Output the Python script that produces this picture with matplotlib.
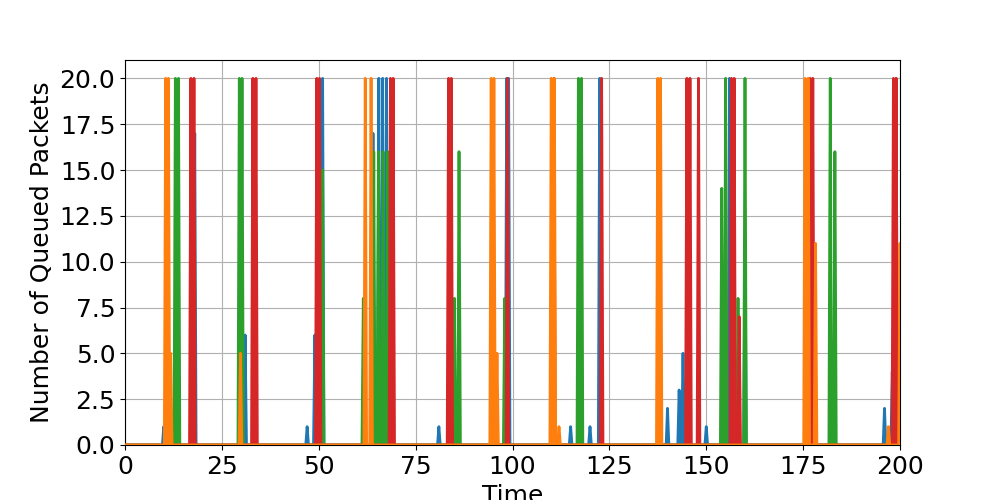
import matplotlib
matplotlib.use("Agg")
import matplotlib.pyplot as plt
import numpy as np

# spike centre times and peak heights per series
blue_t = [10, 12, 18, 30.5, 31, 47, 49, 51, 64, 65.5, 66.5, 67.5, 81, 84, 98.5, 99, 115, 120, 122.5, 140, 143, 144, 145, 150, 156, 160, 196, 198, 199]
blue_v = [1, 1, 17, 6, 6, 1, 6, 20, 17, 20, 20, 20, 1, 1, 20, 20, 1, 1, 20, 2, 3, 5, 6, 1, 20, 11, 2, 4, 20]
orange_t = [10.5, 11.2, 11.8, 29.8, 62, 63.5, 94.5, 95.2, 96, 110, 110.8, 112, 137.5, 138.2, 175.5, 176.3, 178.2, 197, 200]
orange_v = [20, 20, 5, 5, 20, 20, 20, 20, 5, 20, 20, 1, 20, 20, 20, 20, 11, 1, 11]
green_t = [13, 13.8, 29.5, 30.2, 50, 51, 61.5, 64.2, 65.4, 66.6, 67.8, 85, 86.2, 98, 117, 117.8, 154, 155, 158.2, 160, 182, 183.2]
green_v = [20, 20, 20, 20, 15, 15, 8, 16, 16, 16, 16, 8, 16, 8, 20, 20, 14, 20, 8, 20, 20, 16]
red_t = [17, 17.8, 33, 33.8, 49.5, 50.2, 68.5, 69.2, 83.5, 84.2, 98.7, 110.7, 123, 145, 145.8, 148, 156.5, 157.2, 158.5, 176.8, 177.5, 198.3, 199]
red_v = [20, 20, 20, 20, 20, 20, 20, 20, 20, 20, 20, 20, 20, 20, 20, 20, 20, 20, 7, 20, 20, 20, 20]

def spikes(ts, vs, hw=0.35):
    x = [0]; y = [0]
    for t, v in zip(ts, vs):
        x += [t - hw, t, t + hw]; y += [0, v, 0]
    x.append(200); y.append(0)
    return x, y

plt.rcParams['font.size'] = 18
fig, ax = plt.subplots(figsize=(10, 5), dpi=100)
fig.subplots_adjust(left=0.125, right=0.9, top=0.88, bottom=0.11)
for ts, vs, c, z in [(blue_t, blue_v, 'C0', 2), (green_t, green_v, 'C2', 3), (red_t, red_v, 'C3', 4), (orange_t, orange_v, 'C1', 5)]:
    x, y = spikes(ts, vs)
    ax.plot(x, y, color=c, lw=2, zorder=z)
ax.set_xlim(0, 200)
ax.set_ylim(0, 21)
ax.set_yticks(np.arange(0, 20.1, 2.5))
ax.grid(True)
ax.set_xlabel('Time')
ax.set_ylabel('Number of Queued Packets')
fig.savefig('out.png')
